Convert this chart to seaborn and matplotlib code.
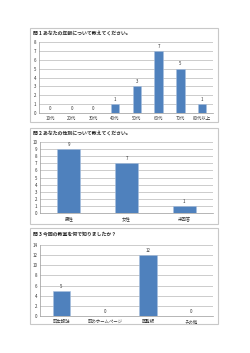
import seaborn as sns
import pandas as pd
import matplotlib.pyplot as plt
from matplotlib.patches import Rectangle

sns.set_theme(style="white")
plt.rcParams['font.family'] = ['Noto Sans CJK JP', 'DejaVu Sans']

age_titles = "問 1 あなたの年齢について教えてください。"
age_labels = ["10代", "20代", "30代", "40代", "50代", "60代", "70代", "80代以上"]
age_counts = [0, 0, 0, 1, 3, 7, 5, 1]

sex_titles = "問 2 あなたの性別について教えてください。"
sex_labels = ["男性", "女性", "未回答"]
sex_counts = [9, 7, 1]

src_titles = "問 3 今回の教室を何で知りましたか？"
src_labels = ["町広報誌", "町のホームページ", "回覧板", "その他"]
src_counts = [5, 0, 12, 0]

W, H = 250, 353
fig = plt.figure(figsize=(W / 100, H / 100), dpi=100)
fig.patch.set_facecolor("white")


def px(x0, y0, x1, y1):
    return [x0 / W, 1 - y1 / H, (x1 - x0) / W, (y1 - y0) / H]


def panel(box, ax_box, title, labels, counts, ymax, step):
    b = px(*box)
    fig.patches.append(Rectangle((b[0], b[1]), b[2], b[3], transform=fig.transFigure,
                                 fill=False, edgecolor="#c8c8c8", linewidth=0.8))
    fig.text(b[0] + 3 / W, 1 - (box[1] + 5.5) / H, title, fontsize=3.5,
             fontweight="bold", va="center", ha="left")
    ax = fig.add_axes(px(*ax_box))
    df = pd.DataFrame({"cat": labels, "n": counts})
    sns.barplot(data=df, x="cat", y="n", ax=ax, color="#4f81bd", width=0.4,
                edgecolor="#a9c0de", linewidth=0.4, saturation=1, zorder=3)
    ax.set_ylim(0, ymax)
    ax.set_yticks(range(0, ymax + 1, step))
    ax.set_xlim(-0.5, len(labels) - 0.5)
    ax.yaxis.grid(True, color="#c4c4c4", linewidth=0.6, zorder=0)
    ax.set_axisbelow(True)
    for s in ["top", "right"]:
        ax.spines[s].set_visible(False)
    ax.spines["left"].set_color("#999999")
    ax.spines["bottom"].set_color("#999999")
    ax.spines["left"].set_linewidth(0.5)
    ax.spines["bottom"].set_linewidth(0.5)
    ax.set_xlabel("")
    ax.set_ylabel("")
    ax.tick_params(axis="both", labelsize=3.2, length=0, pad=2, colors="#333333")
    ax.set_xticks([i + 0.5 for i in range(len(labels) - 1)], minor=True)
    ax.tick_params(axis="x", which="minor", length=2, width=0.4, color="#999999")
    for i, v in enumerate(counts):
        ax.text(i, v + ymax * 0.03, str(v), ha="center", va="bottom", fontsize=3.2,
                color="#333333")
    return ax


panel((30, 28, 218, 122), (39, 42, 213, 113), age_titles, age_labels, age_counts, 8, 1)
panel((30, 128, 218, 224), (40, 142, 213, 213), sex_titles, sex_labels, sex_counts, 10, 1)
panel((30, 228, 218, 324), (40, 245, 213, 316), src_titles, src_labels, src_counts, 14, 2)

fig.savefig("out.png", dpi=100)
